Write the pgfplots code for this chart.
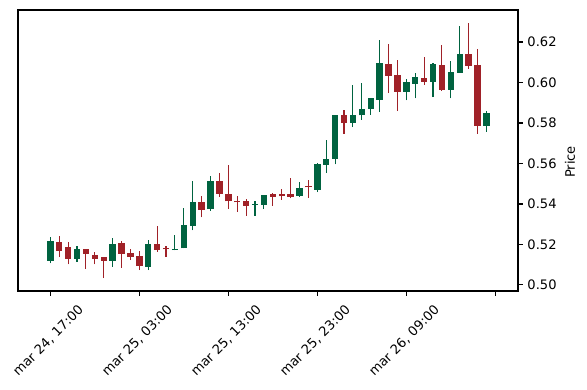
\documentclass[border=0pt]{standalone}
\usepackage{pgfplots}
\pgfplotsset{compat=1.18}
\usepackage{pgfplotstable}
\usepackage{fontspec}
\setmainfont{DejaVu Sans}
\definecolor{upc}{HTML}{006340}
\definecolor{dnc}{HTML}{A02128}

\pgfplotstableread{
i o h l c
0 0.5120 0.5236 0.5107 0.5214
3 0.5128 0.5191 0.5115 0.5173
7 0.5119 0.5231 0.5090 0.5202
11 0.5090 0.5221 0.5073 0.5202
14 0.5172 0.5245 0.5171 0.5176
15 0.5181 0.5379 0.5181 0.5296
16 0.5293 0.5514 0.5270 0.5410
18 0.5374 0.5538 0.5367 0.5510
23 0.5395 0.5416 0.5342 0.5400
24 0.5395 0.5444 0.5375 0.5440
28 0.5441 0.5507 0.5436 0.5479
30 0.5469 0.5604 0.5458 0.5596
31 0.5594 0.5715 0.5555 0.5622
32 0.5624 0.5836 0.5596 0.5836
34 0.5801 0.5986 0.5779 0.5835
35 0.5838 0.5998 0.5815 0.5869
36 0.5871 0.5923 0.5840 0.5919
37 0.5915 0.6208 0.5853 0.6096
40 0.5955 0.6016 0.5912 0.5998
41 0.5993 0.6045 0.5922 0.6027
43 0.6004 0.6095 0.5928 0.6091
45 0.5964 0.6108 0.5922 0.6052
46 0.6048 0.6278 0.6048 0.6139
49 0.5787 0.5859 0.5756 0.5846
}\up

\pgfplotstableread{
i o h l c
1 0.5209 0.5242 0.5137 0.5169
2 0.5184 0.5211 0.5102 0.5128
4 0.5173 0.5173 0.5079 0.5155
5 0.5148 0.5161 0.5102 0.5130
6 0.5138 0.5138 0.5033 0.5120
8 0.5207 0.5219 0.5085 0.5155
9 0.5158 0.5178 0.5123 0.5138
10 0.5140 0.5166 0.5073 0.5095
12 0.5202 0.5290 0.5164 0.5174
13 0.5178 0.5193 0.5137 0.5175
17 0.5410 0.5441 0.5334 0.5370
19 0.5510 0.5552 0.5436 0.5451
20 0.5449 0.5591 0.5375 0.5413
21 0.5411 0.5441 0.5362 0.5408
22 0.5415 0.5425 0.5341 0.5392
25 0.5446 0.5454 0.5390 0.5436
26 0.5449 0.5473 0.5421 0.5438
27 0.5449 0.5527 0.5428 0.5436
29 0.5485 0.5517 0.5430 0.5482
33 0.5836 0.5863 0.5746 0.5800
38 0.6091 0.6189 0.5947 0.6034
39 0.6037 0.6110 0.5858 0.5955
42 0.6022 0.6124 0.5988 0.6004
44 0.6086 0.6184 0.5960 0.5964
47 0.6141 0.6292 0.6067 0.6081
48 0.6086 0.6164 0.5746 0.5787
}\down

\begin{document}
\fontsize{9.4bp}{11bp}\selectfont
\begin{tikzpicture}
\begin{axis}[name=ax, scale only axis, width=360bp, height=202.32bp,
  xmin=-3.63, xmax=52.55, ymin=0.497, ymax=0.6358,
  axis line style={line width=0.8bp},
  every tick/.style={line width=0.8bp, black},
  major tick length=3.5bp, tick align=outside,
  xtick pos=bottom, ytick pos=right, yticklabel pos=right,
  xtick={0,10,20,30,40,50},
  xticklabels={{mar 24, 17:00},{mar 25, 03:00},{mar 25, 13:00},{mar 25, 23:00},{mar 26, 09:00},{}},
  ytick={0.50,0.52,0.54,0.56,0.58,0.60,0.62},
  every tick label/.append style={font=\fontsize{9.4bp}{11bp}\selectfont},
  xticklabel style={yshift=-32.5bp, xshift=-1.4bp, rotate=45, anchor=center},
  yticklabel style={anchor=west, /pgf/number format/.cd, fixed, fixed zerofill, precision=2, assume math mode=true},
  ylabel={Price},
  every axis y label/.style={at={(rel axis cs:1,0.459)}, xshift=37.4bp, rotate=90, anchor=center, font=\fontsize{9.4bp}{11bp}\selectfont},
]
\addplot[draw=none, mark=none, error bars/.cd, y dir=plus, y explicit, error mark=none,
  error bar style={draw=upc, line width=0.8bp}]
  table[x=i, y=l, y error plus expr=\thisrow{h}-\thisrow{l}] {\up};
\addplot[draw=none, mark=none, error bars/.cd, y dir=plus, y explicit, error mark=none,
  error bar style={draw=dnc, line width=0.8bp}]
  table[x=i, y=l, y error plus expr=\thisrow{h}-\thisrow{l}] {\down};
\addplot[draw=none, mark=none, error bars/.cd, y dir=plus, y explicit, error mark=none,
  error bar style={draw=upc, line width=4.6bp}]
  table[x=i, y=o, y error plus expr=\thisrow{c}-\thisrow{o}+0.0002] {\up};
\addplot[draw=none, mark=none, error bars/.cd, y dir=plus, y explicit, error mark=none,
  error bar style={draw=dnc, line width=4.6bp}]
  table[x=i, y=c, y error plus expr=\thisrow{o}-\thisrow{c}+0.0002] {\down};
\end{axis}
\pgfresetboundingbox
\path[use as bounding box] ([xshift=-12.96bp,yshift=-71.28bp]ax.south west) rectangle ([xshift=49.68bp,yshift=7.2bp]ax.north east);
\end{tikzpicture}
\end{document}
